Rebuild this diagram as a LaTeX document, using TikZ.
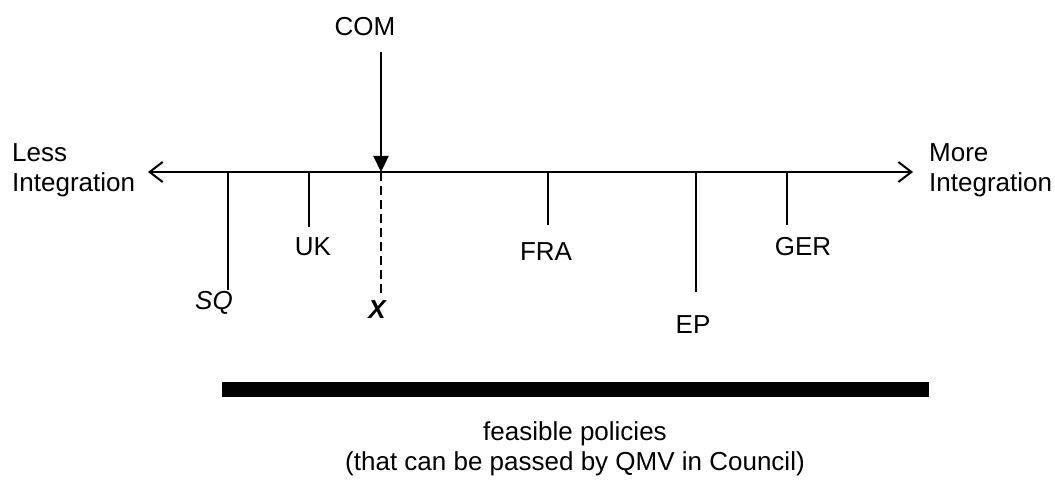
\documentclass[tikz,border=0pt]{standalone}
\usepackage{fontspec}
\setmainfont{Liberation Sans}
\usetikzlibrary{arrows.meta}
\tikzset{
  lbl/.style = {inner sep=0pt, font=\fontsize{26}{30}\selectfont},
  tick/.style = {line width=2pt},
}
\begin{document}
\begin{tikzpicture}[x=1pt, y=-1pt]
\useasboundingbox (0,0) rectangle (1055,481);

% policy axis
\coordinate (lend) at (148,172);
\coordinate (rend) at (913,172);
\draw[tick, {Straight Barb[length=13pt,width=20pt]}-{Straight Barb[length=13pt,width=20pt]}] (lend) -- (rend);
\node[lbl, anchor=west, align=left] (less) at (12,170) {Less\\Integration};
\node[lbl, anchor=west, align=left] (more) at (929,170) {More\\Integration};

% actors
\coordinate (sqtop) at (228,172);
\coordinate (sqbot) at (228,290);
\coordinate (uktop) at (309,172);
\coordinate (ukbot) at (309,227);
\coordinate (xtop) at (381,172);
\coordinate (xbot) at (381,296);
\coordinate (fratop) at (548,172);
\coordinate (frabot) at (548,225);
\coordinate (eptop) at (696,172);
\coordinate (epbot) at (696,292);
\coordinate (gertop) at (787,172);
\coordinate (gerbot) at (787,225);

\draw[tick] (sqtop) -- (sqbot);
\draw[tick] (uktop) -- (ukbot);
\draw[tick, dash pattern=on 9pt off 5pt] (xtop) -- (xbot);
\draw[tick] (fratop) -- (frabot);
\draw[tick] (eptop) -- (epbot);
\draw[tick] (gertop) -- (gerbot);

\node[lbl] (sq) at (214,303) {\itshape SQ};
\node[lbl] (uk) at (313,247) {UK};
\node[lbl] (x) at (377,310) {\bfseries\itshape X};
\node[lbl] (fra) at (546,252) {FRA};
\node[lbl] (ep) at (693,325) {EP};
\node[lbl] (ger) at (803,247) {GER};

% commission proposal
\node[lbl] (com) at (365,27) {COM};
\coordinate (comtop) at (381,52);
\draw[tick, -{Triangle[length=16pt,width=15pt]}] (comtop) -- (xtop);

% feasible set
\fill (222,382) rectangle (929,397);
\node[lbl, align=center] (feas) at (575,449) {feasible policies\\(that can be passed by QMV in Council)};
\end{tikzpicture}
\end{document}
